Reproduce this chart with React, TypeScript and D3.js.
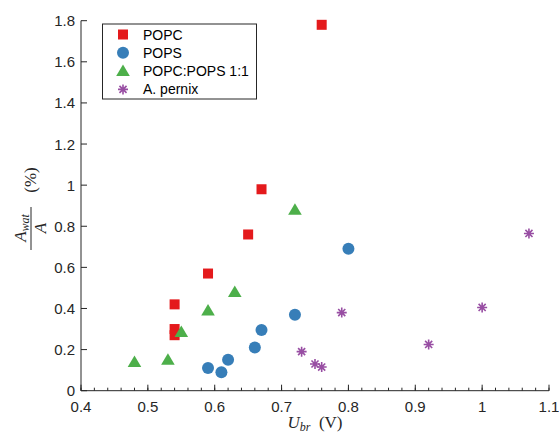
import React from "react";
import * as d3 from "d3";

// values: [U_br (V), A_wat/A (%)]
const popc = [
  [0.76, 1.78],
  [0.67, 0.98],
  [0.65, 0.76],
  [0.59, 0.57],
  [0.54, 0.42],
  [0.54, 0.3],
  [0.54, 0.27],
];
const pops = [
  [0.59, 0.11],
  [0.61, 0.09],
  [0.62, 0.15],
  [0.66, 0.21],
  [0.67, 0.295],
  [0.72, 0.37],
  [0.8, 0.69],
];
const mix = [
  [0.48, 0.14],
  [0.53, 0.15],
  [0.55, 0.285],
  [0.59, 0.39],
  [0.63, 0.48],
  [0.72, 0.88],
];
const pernix = [
  [0.73, 0.19],
  [0.75, 0.13],
  [0.76, 0.115],
  [0.79, 0.38],
  [0.92, 0.225],
  [1.0, 0.405],
  [1.07, 0.765],
];

const xTicks = [0.4, 0.5, 0.6, 0.7, 0.8, 0.9, 1, 1.1];
const yTicks = [0, 0.2, 0.4, 0.6, 0.8, 1, 1.2, 1.4, 1.6, 1.8];
const legendNames = ["POPC", "POPS", "POPC:POPS 1:1", "A. pernix"];

const RED = "#e41a1c";
const BLUE = "#377eb8";
const GREEN = "#4daf4a";
const PURPLE = "#984ea3";
const AX = "#262626";
const FONT = "'Liberation Sans', Arial, Helvetica, sans-serif";
const SERIF = "'Liberation Serif', 'DejaVu Serif', serif";

const W = 559;
const H = 434;
const m = { left: 81, right: 10, top: 20.7, bottom: 43.3 };

const x = d3.scaleLinear().domain([0.4, 1.1]).range([m.left, W - m.right]);
const y = d3.scaleLinear().domain([0, 1.8]).range([H - m.bottom, m.top]);

const fmt = (v: number) => (v === 0 ? "0" : v === 1 ? "1" : d3.format(".1f")(v));

function Marker({ kind, cx, cy }: { kind: number; cx: number; cy: number }) {
  if (kind === 0) return <rect x={cx - 5} y={cy - 5} width={10} height={10} fill={RED} />;
  if (kind === 1) return <circle cx={cx} cy={cy} r={6} fill={BLUE} />;
  if (kind === 2)
    return (
      <path
        d={`M${cx},${cy - 6.5}L${cx + 6.8},${cy + 5}L${cx - 6.8},${cy + 5}Z`}
        fill={GREEN}
      />
    );
  const r = 5;
  const s = r * Math.SQRT1_2;
  return (
    <path
      d={`M${cx - r},${cy}H${cx + r}M${cx},${cy - r}V${cy + r}M${cx - s},${cy - s}L${cx + s},${cy + s}M${cx - s},${cy + s}L${cx + s},${cy - s}`}
      stroke={PURPLE}
      strokeWidth={1.6}
      fill="none"
    />
  );
}

export default function App() {
  const minorX = d3.range(0.4, 1.1001, 0.02);
  const series = [popc, pops, mix, pernix];
  const baseY = H - m.bottom;
  return (
    <svg
      width={W}
      height={H}
      style={{ position: "absolute", left: 0, top: 0, background: "#fff" }}
    >
      {/* axes */}
      <g stroke={AX} strokeWidth={1} fill="none">
        <line x1={m.left} x2={W - m.right} y1={baseY} y2={baseY} />
        <line x1={m.left} x2={m.left} y1={m.top} y2={baseY} />
        {minorX.map((v, i) => (
          <line key={"mx" + i} x1={x(v)} x2={x(v)} y1={baseY} y2={baseY - 3} />
        ))}
        {xTicks.map((v) => (
          <line key={"x" + v} x1={x(v)} x2={x(v)} y1={baseY} y2={baseY - 6} />
        ))}
        {yTicks.map((v) => (
          <line key={"y" + v} x1={m.left} x2={m.left + 6} y1={y(v)} y2={y(v)} />
        ))}
      </g>
      <g fontFamily={FONT} fontSize={15} fill={AX}>
        {xTicks.map((v) => (
          <text key={"xl" + v} x={x(v)} y={baseY + 21} textAnchor="middle">
            {fmt(v)}
          </text>
        ))}
        {yTicks.map((v) => (
          <text key={"yl" + v} x={m.left - 6} y={y(v) + 5.5} textAnchor="end">
            {fmt(v)}
          </text>
        ))}
      </g>

      {/* x label */}
      <text x={(m.left + W - m.right) / 2} y={428} textAnchor="middle" fontFamily={SERIF} fontSize={17} fill={AX}>
        <tspan fontStyle="italic">U</tspan>
        <tspan fontStyle="italic" fontSize={12} dy={2.5}>br</tspan>
        <tspan dy={-2.5}>{"\u00a0\u00a0(V)"}</tspan>
      </text>

      {/* y label */}
      <g transform="translate(31,210) rotate(-90)" fontFamily={SERIF} fill={AX}>
        <text x={-18} y={-5} textAnchor="middle" fontSize={17}>
          <tspan fontStyle="italic">A</tspan>
          <tspan fontStyle="italic" fontSize={12} dy={3}>wat</tspan>
        </text>
        <line x1={-40} x2={3} y1={0} y2={0} stroke={AX} strokeWidth={1} />
        <text x={-18} y={15} textAnchor="middle" fontSize={17} fontStyle="italic">
          A
        </text>
        <text x={30} y={5} textAnchor="middle" fontSize={17}>
          (%)
        </text>
      </g>

      {/* data */}
      {series.map((s, k) =>
        s.map((d, i) => <Marker key={k + "-" + i} kind={k} cx={x(d[0])} cy={y(d[1])} />)
      )}

      {/* legend */}
      <rect x={102.5} y={24} width={154} height={75} fill="#fff" stroke={AX} strokeWidth={1} />
      {legendNames.map((n, i) => (
        <g key={n}>
          <Marker kind={i} cx={123} cy={34.5 + i * 18.3} />
          <text x={143} y={34.5 + i * 18.3 + 5} fontFamily={FONT} fontSize={14} fill="#000">
            {n}
          </text>
        </g>
      ))}
    </svg>
  );
}
